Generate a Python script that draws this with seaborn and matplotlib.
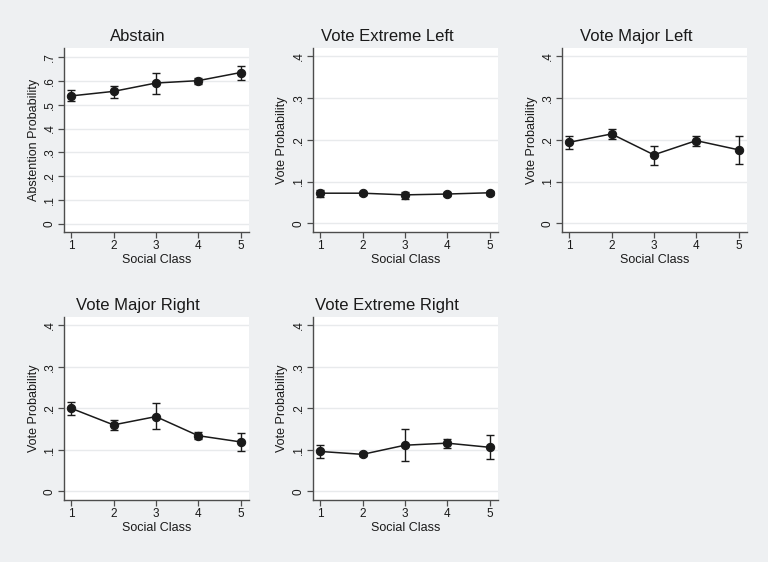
import matplotlib
matplotlib.use("Agg")
import matplotlib.pyplot as plt
import seaborn as sns
import pandas as pd
import numpy as np

sns.set_style("white")
plt.rcParams['font.family'] = ['Liberation Sans', 'DejaVu Sans']

social_class = [1, 2, 3, 4, 5]

titles = ["Abstain", "Vote Extreme Left", "Vote Major Left", "Vote Major Right", "Vote Extreme Right"]
ylabels = ["Abstention Probability", "Vote Probability", "Vote Probability", "Vote Probability", "Vote Probability"]

abstain = [0.537, 0.556, 0.591, 0.601, 0.635]
abstain_lo = [0.515, 0.530, 0.547, 0.587, 0.603]
abstain_hi = [0.561, 0.579, 0.635, 0.612, 0.664]

ext_left = [0.072, 0.072, 0.068, 0.070, 0.073]
ext_left_lo = [0.064, 0.067, 0.059, 0.066, 0.068]
ext_left_hi = [0.079, 0.076, 0.076, 0.074, 0.077]

maj_left = [0.194, 0.214, 0.164, 0.198, 0.176]
maj_left_lo = [0.179, 0.202, 0.139, 0.184, 0.142]
maj_left_hi = [0.209, 0.227, 0.186, 0.210, 0.210]

maj_right = [0.200, 0.160, 0.180, 0.134, 0.119]
maj_right_lo = [0.184, 0.148, 0.149, 0.125, 0.097]
maj_right_hi = [0.214, 0.172, 0.212, 0.144, 0.140]

ext_right = [0.096, 0.089, 0.111, 0.116, 0.106]
ext_right_lo = [0.081, 0.084, 0.073, 0.105, 0.077]
ext_right_hi = [0.111, 0.094, 0.149, 0.125, 0.136]

series = [
    (abstain, abstain_lo, abstain_hi),
    (ext_left, ext_left_lo, ext_left_hi),
    (maj_left, maj_left_lo, maj_left_hi),
    (maj_right, maj_right_lo, maj_right_hi),
    (ext_right, ext_right_lo, ext_right_hi),
]

abstain_ticks = [0, 0.1, 0.2, 0.3, 0.4, 0.5, 0.6, 0.7]
abstain_ticklabels = ["0", ".1", ".2", ".3", ".4", ".5", ".6", ".7"]
vote_ticks = [0, 0.1, 0.2, 0.3, 0.4]
vote_ticklabels = ["0", ".1", ".2", ".3", ".4"]

W, H = 768, 562
fig = plt.figure(figsize=(W / 100, H / 100), dpi=100)
bg = "#eef0f2"
fig.patch.set_facecolor(bg)

cols = [(64, 249), (313, 498), (562, 747)]
rows = [(48, 232), (317, 500)]
positions = [(0, 0), (0, 1), (0, 2), (1, 0), (1, 1)]

dark = "#1a1a1a"
spine_c = "#4d4d4d"
for i, (r, c) in enumerate(positions):
    x0, x1 = cols[c]
    y0, y1 = rows[r]
    ax = fig.add_axes([x0 / W, 1 - y1 / H, (x1 - x0) / W, (y1 - y0) / H])
    ax.set_facecolor("white")
    y, lo, hi = series[i]
    df = pd.DataFrame({"x": social_class, "y": y})
    yerr = np.array([np.array(y) - np.array(lo), np.array(hi) - np.array(y)])
    ax.errorbar(social_class, y, yerr=yerr, fmt="none", ecolor=dark, elinewidth=1.0,
                capsize=2.6, capthick=1.0, zorder=3)
    sns.lineplot(data=df, x="x", y="y", ax=ax, color=dark, marker="o", markersize=6,
                 markeredgecolor=dark, linewidth=1.1, zorder=4)
    if i == 0:
        ax.set_ylim(-0.034, 0.738)
        ax.set_yticks(abstain_ticks)
        ax.set_yticklabels(abstain_ticklabels)
    else:
        ax.set_ylim(-0.021, 0.42)
        ax.set_yticks(vote_ticks)
        ax.set_yticklabels(vote_ticklabels)
    ax.set_xlim(0.83, 5.2)
    ax.set_xticks(social_class)
    ax.set_xticklabels([str(v) for v in social_class])
    ax.yaxis.grid(True, color="#e8eaec", linewidth=1.0)
    ax.set_axisbelow(True)
    for s in ["top", "right"]:
        ax.spines[s].set_visible(False)
    for s in ["left", "bottom"]:
        ax.spines[s].set_color(spine_c)
        ax.spines[s].set_linewidth(1.0)
    ax.tick_params(axis="both", which="both", direction="out", length=4, width=0.9,
                   color=spine_c, labelsize=8.5, labelcolor=dark, left=True, bottom=True, pad=2)
    for lab in ax.get_yticklabels():
        lab.set_rotation(90)
        lab.set_va("center")
    ax.set_title(titles[i], fontsize=12, color=dark, pad=5, x=0.40)
    ax.set_xlabel("Social Class", fontsize=9, color=dark, labelpad=1)
    ax.set_ylabel(ylabels[i], fontsize=9, color=dark, labelpad=3)

fig.savefig("out.png", dpi=100, facecolor=bg)
